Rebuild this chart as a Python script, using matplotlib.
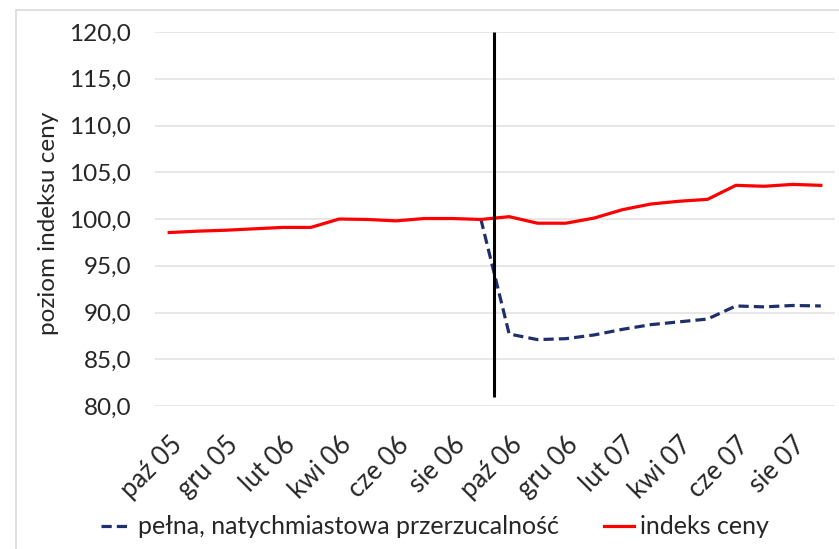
import numpy as np
import matplotlib
matplotlib.use("Agg")
import matplotlib.pyplot as plt
from matplotlib.patches import Rectangle

plt.rcParams['font.family'] = ['Lato', 'DejaVu Sans']

# miesiące od paź 05 do wrz 07
months = ["paź 05", "lis 05", "gru 05", "sty 06", "lut 06", "mar 06", "kwi 06", "maj 06",
          "cze 06", "lip 06", "sie 06", "wrz 06", "paź 06", "lis 06", "gru 06", "sty 07",
          "lut 07", "mar 07", "kwi 07", "maj 07", "cze 07", "lip 07", "sie 07", "wrz 07"]

price_index = [98.55, 98.7, 98.8, 98.95, 99.1, 99.1, 100.0, 99.95, 99.8, 100.05, 100.05, 99.95,
               100.25, 99.55, 99.55, 100.1, 101.0, 101.6, 101.9, 102.1, 103.6, 103.5, 103.7, 103.6]

full_passthrough = [np.nan] * 11 + [100.0, 87.7, 87.1, 87.2, 87.6, 88.2, 88.7, 89.0, 89.3,
                                    90.7, 90.6, 90.75, 90.7]

# pionowa kreska - moment zmiany
shock_x = 11.45
shock_range = (81.0, 120.0)

x = np.arange(len(months))

fig = plt.figure(figsize=(8.39, 5.49), dpi=100)
ax = fig.add_axes([155 / 839, 143 / 549, 680 / 839, 374 / 549])

# ramka wykresu
fig.patches.append(Rectangle((16 / 839, -0.1), 1.2, (549 - 10) / 549 + 0.1,
                             transform=fig.transFigure, fill=False,
                             edgecolor="#d9d9d9", linewidth=1.2, clip_on=False))

ax.plot(x, full_passthrough, color="#1f2f6b", linewidth=2.3, linestyle=(0, (3.2, 1.6)),
        label="pełna, natychmiastowa przerzucalność")
ax.plot(x, price_index, color="#ff0000", linewidth=2.3, label="indeks ceny")
ax.vlines(shock_x, *shock_range, color="black", linewidth=2.2)

ax.set_xlim(-0.5, len(months) - 0.5)
ax.set_ylim(80, 120)
ax.set_yticks(np.arange(80, 121, 5))
ax.set_yticklabels([f"{v:.1f}".replace(".", ",") for v in np.arange(80, 121, 5)], fontsize=17.5,
                   color="#262626")
ax.set_xticks(x[::2])
ax.set_xticklabels(months[::2], rotation=45, ha="right", va="top", rotation_mode="anchor",
                   fontsize=18.5, color="#262626")
ax.tick_params(axis="both", length=0)
ax.tick_params(axis="x", pad=19)
ax.tick_params(axis="y", pad=17)
ax.grid(axis="y", color="#e3e3e3", linewidth=1.2)
ax.set_axisbelow(True)
for s in ax.spines.values():
    s.set_visible(False)

ax.set_ylabel("poziom indeksu ceny", fontsize=17.5, color="#262626", va="center")
ax.yaxis.set_label_coords(-0.156, 0.487)

fig.legend(loc="center", bbox_to_anchor=(435 / 839, 1 - 527 / 549), ncol=2, frameon=False,
           fontsize=18, handlelength=1.2, handletextpad=0.28, columnspacing=1.8,
           labelcolor="#262626")

fig.savefig("out.png", dpi=100)
